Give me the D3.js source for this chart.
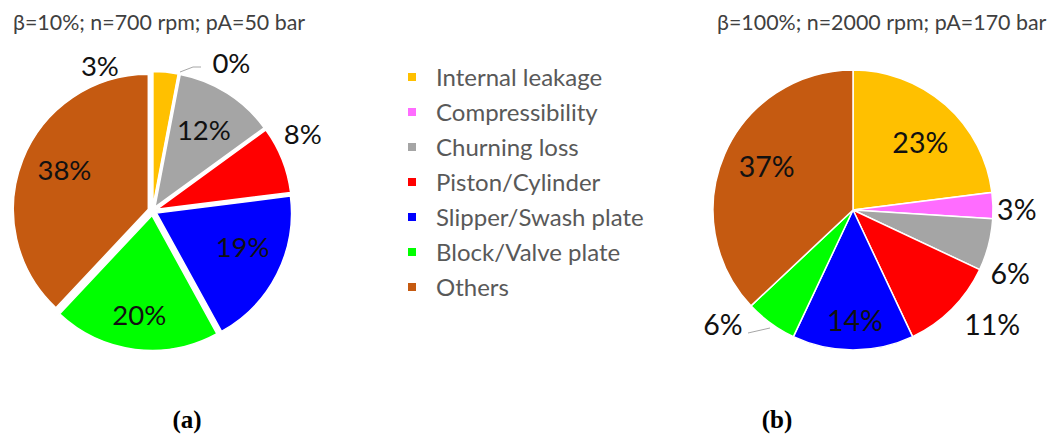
<!DOCTYPE html>
<html>
<head>
<meta charset="utf-8">
<script src="https://cdn.jsdelivr.net/npm/d3@7"></script>
<style>
  body { margin: 0; background: #fff; }
  svg { display: block; }
</style>
</head>
<body>
<div id="chart"></div>
<script>
// categories and series (percent of total loss)
const categories = ['Internal leakage', 'Compressibility', 'Churning loss', 'Piston/Cylinder',
                    'Slipper/Swash plate', 'Block/Valve plate', 'Others'];
const colors = ['#FFC000', '#FF6CFF', '#A5A5A5', '#FF0000', '#0000FF', '#00FF00', '#C55A11'];
const valuesA = [3, 0, 12, 8, 19, 20, 38];
const valuesB = [23, 3, 6, 11, 14, 6, 37];
const titleA = 'β=10%; n=700 rpm; pA=50 bar';
const titleB = 'β=100%; n=2000 rpm; pA=170 bar';
const captions = ['(a)', '(b)'];

// label layout: [angle override in degrees or null, radius factor]
const labelLayoutA = [[340, 1.14], [28, 1.245], [null, 0.71], [63, 1.25], [112, 0.72], [null, 0.78], [295, 0.72]];
const labelLayoutB = [[45, 0.68], [90, 1.17], [112, 1.21], [129.6, 1.29], [179, 0.79], [228.5, 1.24], [296.6, 0.69]];

const W = 1050, H = 437;
const svg = d3.select('#chart').append('svg')
    .attr('width', W)
    .attr('height', H);

const labelFont = 'Lato, "Open Sans", sans-serif';

function drawPie(opts) {
    const { cx, cy, r, values, layout, explode, fontSize, title, titleX, leaders } = opts;
    const g = svg.append('g').attr('transform', `translate(${cx},${cy})`);

    const pie = d3.pie().sort(null).value(d => d.value);
    const arcs = pie(values.map((v, i) => ({ value: v, i })));
    const arc = d3.arc().innerRadius(0).outerRadius(r);

    g.selectAll('path.slice')
        .data(arcs)
        .enter()
        .append('path')
        .attr('class', 'slice')
        .attr('d', arc)
        .attr('fill', d => colors[d.data.i])
        .attr('stroke', 'white')
        .attr('stroke-width', 1.5)
        .attr('transform', d => {
            const mid = (d.startAngle + d.endAngle) / 2;
            return `translate(${Math.sin(mid) * explode},${-Math.cos(mid) * explode})`;
        });

    // leader lines
    leaders.forEach(pts => {
        g.append('path')
            .attr('d', d3.line()(pts.map(p => [p[0] - cx, p[1] - cy])))
            .attr('fill', 'none')
            .attr('stroke', '#A6A6A6')
            .attr('stroke-width', 1);
    });

    g.selectAll('text.lbl')
        .data(arcs)
        .enter()
        .append('text')
        .attr('class', 'lbl')
        .attr('x', d => {
            const l = layout[d.data.i];
            const a = l[0] == null ? (d.startAngle + d.endAngle) / 2 : l[0] * Math.PI / 180;
            return Math.sin(a) * r * l[1];
        })
        .attr('y', d => {
            const l = layout[d.data.i];
            const a = l[0] == null ? (d.startAngle + d.endAngle) / 2 : l[0] * Math.PI / 180;
            return -Math.cos(a) * r * l[1];
        })
        .attr('dy', '0.36em')
        .attr('text-anchor', 'middle')
        .style('font-family', labelFont)
        .style('font-size', fontSize + 'px')
        .style('fill', '#111')
        .text(d => d.data.value + '%');

    svg.append('text')
        .attr('x', titleX)
        .attr('y', 30)
        .style('font-family', labelFont)
        .style('font-size', '21.4px')
        .style('fill', '#404040')
        .text(title);
}

drawPie({
    cx: 152.5, cy: 211, r: 135, values: valuesA, layout: labelLayoutA,
    explode: 4.5, fontSize: 27.5, title: titleA, titleX: 13,
    leaders: [[[180, 72], [193, 67], [201, 67]]]
});

drawPie({
    cx: 853, cy: 210, r: 140, values: valuesB, layout: labelLayoutB,
    explode: 0, fontSize: 28.5, title: titleB, titleX: 717,
    leaders: [[[748, 333], [770, 328]]]
});

// legend
const legend = svg.append('g').attr('transform', 'translate(408,77)');
const rows = legend.selectAll('g.row')
    .data(categories)
    .enter()
    .append('g')
    .attr('class', 'row')
    .attr('transform', (d, i) => `translate(0,${i * 35})`);

rows.append('rect')
    .attr('x', 0)
    .attr('y', -4)
    .attr('width', 8)
    .attr('height', 8)
    .attr('fill', (d, i) => colors[i]);

rows.append('text')
    .attr('x', 28)
    .attr('dy', '0.36em')
    .style('font-family', labelFont)
    .style('font-size', '24px')
    .style('fill', '#595959')
    .text(d => d);

// captions
const capX = d3.scalePoint().domain(captions).range([187, 777]);
svg.selectAll('text.cap')
    .data(captions)
    .enter()
    .append('text')
    .attr('class', 'cap')
    .attr('x', d => capX(d))
    .attr('y', 428)
    .attr('text-anchor', 'middle')
    .style('font-family', '"Liberation Serif", serif')
    .style('font-weight', 'bold')
    .style('font-size', '25px')
    .style('fill', '#000')
    .text(d => d);
</script>
</body>
</html>
